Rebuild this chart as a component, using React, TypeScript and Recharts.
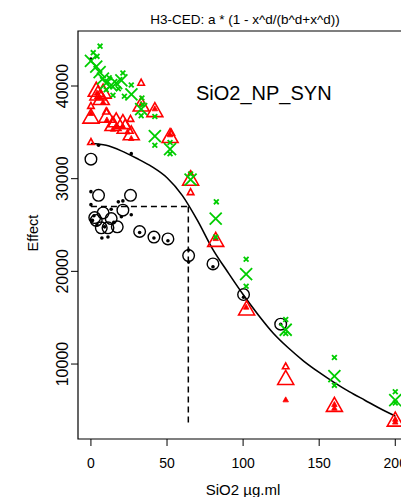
import React from "react";
import {
  ComposedChart,
  Scatter,
  Line,
  XAxis,
  YAxis,
  ReferenceLine,
  ReferenceArea,
} from "recharts";

// axis setup
const xTicks = [0, 50, 100, 150, 200];
const yTicks = [10000, 20000, 30000, 40000];
const xDomain = [-8.5, 208.5];
const yDomain = [1911, 45935];

// fitted curve
const curveX = [0, 10, 20, 30, 40, 50, 60, 70, 80, 90, 100, 110, 120, 130, 140, 150, 160, 170, 180, 190, 200];
const curveY = [33800, 33600, 33000, 32200, 31300, 30100, 28200, 25500, 22400, 19900, 17500, 15300, 13300, 11700, 10300, 9100, 8000, 7000, 6100, 5200, 4400];

// dashed guide (effective concentration)
const edX = 64;
const edY = 27000;
const edBottom = 3400;

// green crosses
const crossBigX = [0, 3.5, 5.7, 7.9, 10, 13.3, 16.6, 20, 26.6, 33, 42, 52, 65.5, 82, 102, 128, 160, 200];
const crossBigY = [42700, 42100, 41500, 40800, 40300, 40100, 40300, 40600, 39100, 37500, 34600, 33200, 29900, 25700, 19700, 13700, 8700, 6100];
const crossSmallX = [6, 4, 1.5, 12, 21, 26.5, 10, 14.5, 18, 22, 33.5, 34, 33, 42, 42, 52, 52, 65.5, 82.4, 82, 102, 102, 128, 128, 160, 160, 200, 200];
const crossSmallY = [44300, 43200, 43600, 40900, 41400, 40100, 39600, 39000, 39700, 38900, 38700, 38000, 36800, 36700, 33600, 33900, 32700, 30500, 27500, 23700, 21300, 18400, 14800, 13300, 10700, 7700, 7000, 5800];

// red triangles
const triBigX = [0, 3.5, 4.6, 6.8, 8, 10.5, 14.5, 16.6, 21, 22.5, 26.5, 33, 42, 52, 65.5, 82, 102.3, 128, 160, 200];
const triBigY = [36500, 39400, 39000, 38500, 39200, 36600, 35700, 36100, 35900, 35400, 34700, 37800, 37200, 34400, 29800, 23200, 15800, 8300, 5400, 3800];
const triSmallX = [0, 0, 33, 52.8, 65.5, 128, 10, 26];
const triSmallY = [37800, 33900, 40300, 34900, 28500, 9700, 37200, 36400];
const triFillX = [0, 4, 6, 8, 10.5, 14.5, 16.6, 21, 24, 26.5, 33, 42, 52, 65.5, 82, 102, 128, 160, 200, 160, 200];
const triFillY = [37000, 39200, 38700, 38200, 36300, 35300, 35700, 35600, 35000, 34300, 38000, 37500, 34700, 30600, 23500, 16100, 6100, 5600, 4000, 5200, 3700];

// black circles and dots
const circleX = [0, 5, 26, 2.5, 3.5, 8, 6.8, 11.2, 13.3, 17.3, 21, 32, 41.4, 50.6, 64.2, 80.2, 100.3, 124.7];
const circleY = [32100, 28200, 28200, 25800, 25500, 26300, 24700, 24700, 25700, 24800, 26600, 24300, 23700, 23500, 21700, 20800, 17500, 14300];
const dotX = [0, 0, 0, 5, 26.5, 21, 26.5, 7.2, 11.2, 13.3, 20, 2, 4, 9, 15, 32, 41.4, 50.6, 64.2, 64.2, 80.2, 100.3, 124.7, 18, 1];
const dotY = [42900, 28600, 27200, 33600, 32700, 27600, 26100, 23600, 23700, 26700, 25900, 26000, 25000, 24800, 25300, 24200, 23600, 23300, 22300, 21000, 20500, 17200, 14300, 27500, 25500];

const zip = (xs: number[], ys: number[]) => xs.map((x, i) => ({ x, y: ys[i] }));

const GREEN = "#00CD00";
const RED = "#FF0000";
const FONT = "'Liberation Sans', Arial, sans-serif";

const circleShape = (p: any) => (
  <circle cx={p.cx} cy={p.cy} r={5.8} fill="none" stroke="#000" strokeWidth={1.4} />
);
const dotShape = (p: any) => <circle cx={p.cx} cy={p.cy} r={1.8} fill="#000" />;

const triangle = (w: number, h: number, filled: boolean) => (p: any) => {
  const pts = `${p.cx},${p.cy - (2 * h) / 3} ${p.cx - w / 2},${p.cy + h / 3} ${p.cx + w / 2},${p.cy + h / 3}`;
  return (
    <polygon
      points={pts}
      fill={filled ? RED : "none"}
      stroke={RED}
      strokeWidth={filled ? 0.8 : 1.6}
    />
  );
};

const cross = (s: number, sw: number) => (p: any) => (
  <g stroke={GREEN} strokeWidth={sw}>
    <line x1={p.cx - s} y1={p.cy - s} x2={p.cx + s} y2={p.cy + s} />
    <line x1={p.cx - s} y1={p.cy + s} x2={p.cx + s} y2={p.cy - s} />
  </g>
);

const YTick = (p: any) => (
  <text
    x={p.x}
    y={p.y}
    transform={`rotate(-90, ${p.x}, ${p.y})`}
    textAnchor="middle"
    fontSize={16}
    fontFamily={FONT}
    fill="#000"
  >
    {p.payload.value}
  </text>
);

const XTick = (p: any) => (
  <text x={p.x} y={p.y} dy="0.71em" textAnchor="middle" fontSize={14} fontFamily={FONT} fill="#000">
    {p.payload.value}
  </text>
);

export default function App() {
  return (
    <div style={{ position: "absolute", left: 0, top: 0, width: 401, height: 497, overflow: "hidden", background: "#fff" }}>
      <ComposedChart
        width={420}
        height={497}
        margin={{ top: 31, right: 11.8, bottom: 0, left: 0 }}
      >
        <XAxis
          type="number"
          dataKey="x"
          domain={xDomain}
          ticks={xTicks}
          allowDataOverflow
          axisLine={false}
          tickLine={{ stroke: "#000" }}
          tickSize={7}
          tickMargin={12}
          height={58}
          tick={<XTick />}
          interval={0}
        />
        <YAxis
          type="number"
          dataKey="y"
          domain={yDomain}
          ticks={yTicks}
          allowDataOverflow
          axisLine={false}
          tickLine={{ stroke: "#000" }}
          tickSize={7}
          tickMargin={3}
          width={78}
          tick={<YTick />}
          interval={0}
        />
        <ReferenceArea
          x1={xDomain[0]}
          x2={xDomain[1]}
          y1={yDomain[0]}
          y2={yDomain[1]}
          fill="none"
          stroke="#000"
          strokeWidth={1.2}
          ifOverflow="visible"
        />
        <ReferenceLine
          segment={[{ x: 0, y: edY }, { x: edX, y: edY }]}
          stroke="#000"
          strokeWidth={1.5}
          strokeDasharray="6 4"
        />
        <ReferenceLine
          segment={[{ x: edX, y: edY }, { x: edX, y: edBottom }]}
          stroke="#000"
          strokeWidth={1.5}
          strokeDasharray="6 4"
        />
        <Line
          data={zip(curveX, curveY)}
          dataKey="y"
          type="monotone"
          stroke="#000"
          strokeWidth={1.6}
          dot={false}
          isAnimationActive={false}
        />
        <Scatter data={zip(dotX, dotY)} shape={dotShape} isAnimationActive={false} />
        <Scatter data={zip(circleX, circleY)} shape={circleShape} isAnimationActive={false} />
        <Scatter data={zip(triBigX, triBigY)} shape={triangle(16, 14, false)} isAnimationActive={false} />
        <Scatter data={zip(triSmallX, triSmallY)} shape={triangle(6.5, 6, false)} isAnimationActive={false} />
        <Scatter data={zip(triFillX, triFillY)} shape={triangle(5.5, 5, true)} isAnimationActive={false} />
        <Scatter data={zip(crossBigX, crossBigY)} shape={cross(6, 1.8)} isAnimationActive={false} />
        <Scatter data={zip(crossSmallX, crossSmallY)} shape={cross(2.4, 1.8)} isAnimationActive={false} />
      </ComposedChart>
      <svg
        width={401}
        height={497}
        style={{ position: "absolute", left: 0, top: 0, pointerEvents: "none" }}
        fontFamily={FONT}
      >
        <text x={245} y={24} textAnchor="middle" fontSize={13.5} fill="#000">
          {"H3-CED: a * (1 - x^d/(b^d+x^d))"}
        </text>
        <text x={196} y={99.5} fontSize={20} fill="#000">
          SiO2_NP_SYN
        </text>
        <text x={243} y={495} textAnchor="middle" fontSize={15} fill="#000">
          SiO2 µg.ml
        </text>
        <text
          x={37.5}
          y={233}
          transform="rotate(-90, 37.5, 233)"
          textAnchor="middle"
          fontSize={14.5}
          fill="#000"
        >
          Effect
        </text>
      </svg>
    </div>
  );
}
